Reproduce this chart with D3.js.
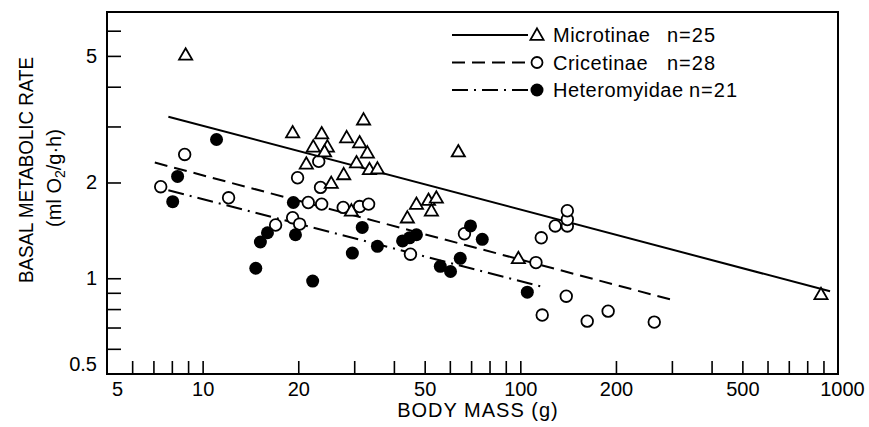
<!DOCTYPE html>
<html>
<head>
<meta charset="utf-8">
<script src="https://cdn.jsdelivr.net/npm/d3@7"></script>
<style>
  body { margin: 0; background: #fff; }
  text { font-family: "Liberation Sans", Arial, sans-serif; fill: #000; }
</style>
</head>
<body>
<div id="container"></div>
<script>
const width = 869, height = 427;
const margin = { left: 107, right: 31, top: 12, bottom: 53 };

// body mass (g), basal metabolic rate (ml O2/g.h)
const microtinae = [
  [8.84, 5.04], [19.2, 2.87], [23.7, 2.85], [28.4, 2.77], [32.1, 3.15],
  [31.2, 2.67], [22.3, 2.59], [24.7, 2.59], [24.2, 2.50], [33.0, 2.48],
  [21.2, 2.29], [30.5, 2.31], [33.5, 2.20], [35.5, 2.21], [27.8, 2.12],
  [25.4, 1.99], [29.4, 1.63], [44.1, 1.55], [47.1, 1.71], [51.4, 1.76],
  [54.4, 1.79], [52.5, 1.63], [98.6, 1.155], [884, 0.89], [63.8, 2.50]
];
const cricetinae = [
  [8.78, 2.45], [7.38, 1.94], [12.07, 1.79], [19.9, 2.07], [23.2, 2.33],
  [23.5, 1.93], [21.5, 1.73], [23.7, 1.71], [27.7, 1.67], [31.2, 1.68],
  [33.3, 1.71], [19.2, 1.55], [20.2, 1.48], [16.97, 1.47], [45.1, 1.19],
  [66.7, 1.38], [116.4, 1.34], [128.8, 1.46], [140.6, 1.46], [140.6, 1.53],
  [140.6, 1.63], [112, 1.12], [139.5, 0.878], [117.2, 0.766], [162.4, 0.733],
  [189, 0.788], [264, 0.728]
];
const heteromyidae = [
  [11.06, 2.73], [8.34, 2.09], [8.05, 1.74], [19.3, 1.73], [16.0, 1.39],
  [15.2, 1.30], [19.6, 1.37], [31.8, 1.445], [35.5, 1.26], [42.6, 1.31],
  [44.8, 1.34], [47.1, 1.37], [29.6, 1.20], [14.7, 1.075], [22.2, 0.98],
  [69.7, 1.46], [75.9, 1.325], [64.7, 1.155], [56.0, 1.09], [60.3, 1.05],
  [105.2, 0.904]
];

// regression line end points
const microFit = [[7.8, 3.22], [944, 0.91]];
const cricFit = [[7.07, 2.31], [303, 0.853]];
const heteroFit = [[7.8, 1.89], [115.6, 0.944]];

const legendLabels = [["Microtinae", "n=25"], ["Cricetinae", "n=28"], ["Heteromyidae", "n=21"]];
const xMinorTicks = [6, 7, 8, 9, 10, 20, 30, 40, 50, 60, 70, 80, 90, 100, 200, 300, 400, 500, 600, 700, 800, 900];
const xLabels = [5, 10, 20, 50, 100, 200, 500, 1000];
const yMinorTicks = [0.6, 0.7, 0.8, 0.9, 1, 2, 3, 4, 5, 6];
const yLabels = [0.5, 1, 2, 5];

const svg = d3.select("#container").append("svg")
    .attr("width", width)
    .attr("height", height);

const x = d3.scaleLog().domain([5, 1000]).range([margin.left, width - margin.right]);
const y = d3.scaleLog().domain([0.5, 6.87]).range([height - margin.bottom, margin.top]);

// ticks (pointing inward)
const xTicks = svg.append("g")
    .attr("transform", `translate(0,${height - margin.bottom})`)
    .call(d3.axisBottom(x).tickValues(xMinorTicks).tickSize(-13).tickFormat(""));
xTicks.select(".domain").remove();
xTicks.selectAll("line").attr("stroke-width", 1.6);

const yTicks = svg.append("g")
    .attr("transform", `translate(${margin.left},0)`)
    .call(d3.axisLeft(y).tickValues(yMinorTicks).tickSize(-14).tickFormat(""));
yTicks.select(".domain").remove();
yTicks.selectAll("line").attr("stroke-width", 1.6);

// tick labels
const xLab = svg.append("g")
    .attr("transform", `translate(0,${height - margin.bottom})`)
    .call(d3.axisBottom(x).tickValues(xLabels).tickSize(0).tickPadding(8).tickFormat(d3.format("d")));
xLab.select(".domain").remove();
xLab.selectAll("text").style("font-size", "20px").attr("fill", "#000")
    .attr("dx", d => d === 5 ? 10 : d === 1000 ? 4 : 0);

const yLab = svg.append("g")
    .attr("transform", `translate(${margin.left},0)`)
    .call(d3.axisLeft(y).tickValues(yLabels).tickSize(0).tickPadding(10).tickFormat(d => d));
yLab.select(".domain").remove();
yLab.selectAll("text").style("font-size", "20px").attr("fill", "#000")
    .attr("dy", d => d === 0.5 ? "-0.2em" : "0.32em");

// frame
svg.append("rect")
    .attr("x", margin.left)
    .attr("y", margin.top)
    .attr("width", width - margin.left - margin.right)
    .attr("height", height - margin.top - margin.bottom)
    .attr("fill", "none")
    .attr("stroke", "#000")
    .attr("stroke-width", 2);

// regression lines
const line = d3.line().x(d => x(d[0])).y(d => y(d[1]));
const dashes = ["none", "13,7", "16,6,2,6"];
[microFit, cricFit, heteroFit].forEach((fit, i) => {
    svg.append("path")
        .attr("d", line(fit))
        .attr("fill", "none")
        .attr("stroke", "#000")
        .attr("stroke-width", 2)
        .attr("stroke-dasharray", dashes[i]);
});

const triangle = d3.symbol().type(d3.symbolTriangle).size(75);

function drawTriangle(g, px, py) {
    g.append("path")
        .attr("d", triangle())
        .attr("transform", `translate(${px},${py + 1})`)
        .attr("fill", "#fff")
        .attr("stroke", "#000")
        .attr("stroke-width", 1.8);
}

// points
cricetinae.forEach(d => {
    svg.append("circle")
        .attr("cx", x(d[0])).attr("cy", y(d[1])).attr("r", 5.8)
        .attr("fill", "#fff").attr("stroke", "#000").attr("stroke-width", 1.8);
});
heteromyidae.forEach(d => {
    svg.append("circle")
        .attr("cx", x(d[0])).attr("cy", y(d[1])).attr("r", 6.5)
        .attr("fill", "#000");
});
microtinae.forEach(d => drawTriangle(svg, x(d[0]), y(d[1])));

// legend
const legend = svg.append("g");
legendLabels.forEach((lab, i) => {
    const ly = 35 + i * 27.5;
    legend.append("line")
        .attr("x1", 452).attr("x2", 528)
        .attr("y1", ly).attr("y2", ly)
        .attr("stroke", "#000").attr("stroke-width", 2)
        .attr("stroke-dasharray", dashes[i]);
    if (i === 0) drawTriangle(legend, 537, ly);
    else if (i === 1) legend.append("circle").attr("cx", 537).attr("cy", ly).attr("r", 5.5)
        .attr("fill", "#fff").attr("stroke", "#000").attr("stroke-width", 1.8);
    else legend.append("circle").attr("cx", 537).attr("cy", ly).attr("r", 6.5).attr("fill", "#000");
    const t = legend.append("text")
        .attr("x", 553).attr("y", ly + 7)
        .style("font-size", "20px");
    t.append("tspan").text(lab[0]).attr("letter-spacing", 0.5);
    t.append("tspan").attr("x", i === 2 ? 689 : 667).text(lab[1]).attr("letter-spacing", 1);
});

// axis titles
svg.append("text")
    .attr("x", 478).attr("y", 417)
    .attr("text-anchor", "middle")
    .style("font-size", "20px")
    .attr("letter-spacing", 1)
    .text("BODY MASS (g)");

svg.append("text")
    .attr("transform", "translate(33,170) rotate(-90)")
    .attr("text-anchor", "middle")
    .style("font-size", "21px")
    .attr("textLength", 226)
    .attr("lengthAdjust", "spacingAndGlyphs")
    .text("BASAL METABOLIC RATE");

const unit = svg.append("text")
    .attr("transform", "translate(61,178) rotate(-90)")
    .attr("text-anchor", "middle")
    .style("font-size", "20px");
unit.append("tspan").text("(ml O");
unit.append("tspan").attr("dy", 4).style("font-size", "14px").text("2");
unit.append("tspan").attr("dy", -4).text("/g·h)");
</script>
</body>
</html>
